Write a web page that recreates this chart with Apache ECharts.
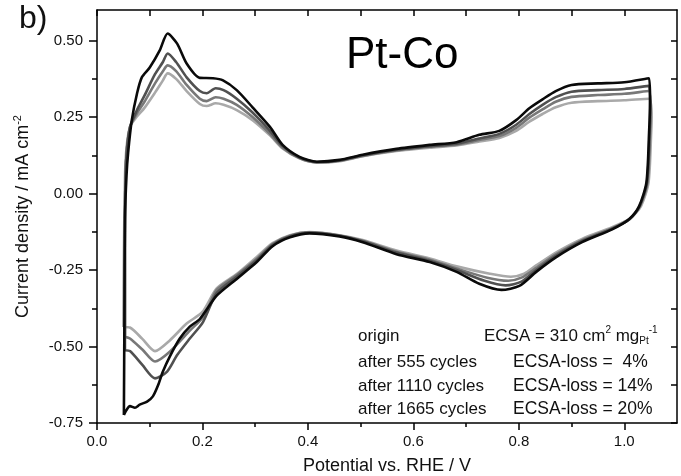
<!DOCTYPE html>
<html>
<head>
<meta charset="utf-8">
<script src="https://cdn.jsdelivr.net/npm/echarts@6/dist/echarts.min.js"></script>
<style>
  html, body { margin: 0; padding: 0; background: #fff; }
  #cv { width: 681px; height: 476px; }
</style>
</head>
<body>
<div id="cv"></div>
<script>
// tick positions
const xMajorTicks = [0, 0.2, 0.4, 0.6, 0.8, 1.0];
const xMinorTicks = [0.1, 0.3, 0.5, 0.7, 0.9];
const yMajorTicks = [-0.75, -0.5, -0.25, 0, 0.25, 0.5];
const yMinorTicks = [-0.625, -0.375, -0.125, 0.125, 0.375];

// CV loops: [potential V, current density mA cm-2], anodic then cathodic scan
const originLoop = [
  [0.051, -0.724], [0.052, -0.40], [0.053, -0.08], [0.056, 0.06], [0.059, 0.133],
  [0.066, 0.24], [0.076, 0.328], [0.085, 0.38], [0.100, 0.412], [0.119, 0.468],
  [0.134, 0.523], [0.152, 0.490], [0.170, 0.425], [0.195, 0.378], [0.220, 0.377],
  [0.239, 0.370], [0.265, 0.338], [0.295, 0.282], [0.328, 0.218], [0.352, 0.159],
  [0.384, 0.120], [0.417, 0.104], [0.460, 0.110], [0.504, 0.127], [0.568, 0.146],
  [0.631, 0.159], [0.682, 0.168], [0.725, 0.192], [0.763, 0.205], [0.795, 0.240],
  [0.820, 0.279], [0.845, 0.308], [0.870, 0.335], [0.900, 0.355], [0.950, 0.360],
  [1.000, 0.364], [1.047, 0.377],
  [1.049, 0.30], [1.047, 0.198], [1.042, 0.036], [1.028, -0.042], [1.009, -0.084],
  [0.977, -0.117], [0.920, -0.159], [0.871, -0.208], [0.833, -0.256], [0.801, -0.302],
  [0.767, -0.315], [0.725, -0.295], [0.682, -0.256], [0.631, -0.224], [0.568, -0.198],
  [0.504, -0.159], [0.460, -0.140], [0.403, -0.130], [0.366, -0.143], [0.333, -0.172],
  [0.303, -0.224], [0.265, -0.279], [0.227, -0.334], [0.195, -0.41], [0.176, -0.435],
  [0.157, -0.474], [0.138, -0.533], [0.125, -0.582], [0.116, -0.626], [0.106, -0.663],
  [0.095, -0.680], [0.081, -0.690], [0.072, -0.700], [0.0625, -0.695], [0.055, -0.71],
  [0.051, -0.724]
];
const cyc555Loop = [
  [0.053, -0.512], [0.053, -0.2], [0.054, 0.05], [0.057, 0.15], [0.063, 0.22],
  [0.075, 0.27], [0.090, 0.32], [0.110, 0.39], [0.125, 0.43], [0.134, 0.458],
  [0.150, 0.43], [0.170, 0.38], [0.195, 0.335], [0.208, 0.328], [0.225, 0.344],
  [0.240, 0.338], [0.265, 0.31], [0.295, 0.265], [0.328, 0.205], [0.352, 0.155],
  [0.384, 0.118], [0.417, 0.103], [0.460, 0.108], [0.504, 0.125], [0.568, 0.143],
  [0.631, 0.155], [0.682, 0.163], [0.725, 0.180], [0.763, 0.195], [0.795, 0.225],
  [0.820, 0.26], [0.845, 0.29], [0.870, 0.315], [0.900, 0.333], [0.950, 0.338],
  [1.000, 0.342], [1.047, 0.352],
  [1.049, 0.28], [1.048, 0.198], [1.043, 0.036], [1.029, -0.042], [1.010, -0.084],
  [0.977, -0.115], [0.920, -0.155], [0.871, -0.203], [0.833, -0.25], [0.805, -0.288],
  [0.775, -0.300], [0.735, -0.285], [0.682, -0.25], [0.631, -0.22], [0.568, -0.193],
  [0.504, -0.156], [0.460, -0.138], [0.403, -0.128], [0.366, -0.140], [0.333, -0.168],
  [0.303, -0.218], [0.265, -0.272], [0.227, -0.325], [0.201, -0.42], [0.176, -0.474],
  [0.152, -0.528], [0.133, -0.582], [0.110, -0.604], [0.086, -0.56], [0.0625, -0.515],
  [0.053, -0.512]
];
const cyc1110Loop = [
  [0.053, -0.468], [0.053, -0.2], [0.054, 0.05], [0.057, 0.15], [0.063, 0.22],
  [0.075, 0.26], [0.090, 0.30], [0.110, 0.36], [0.125, 0.40], [0.134, 0.419],
  [0.150, 0.40], [0.170, 0.355], [0.195, 0.31], [0.208, 0.302], [0.225, 0.315],
  [0.240, 0.31], [0.265, 0.29], [0.295, 0.25], [0.328, 0.195], [0.352, 0.15],
  [0.384, 0.116], [0.417, 0.102], [0.460, 0.107], [0.504, 0.123], [0.568, 0.141],
  [0.631, 0.153], [0.682, 0.160], [0.725, 0.175], [0.763, 0.188], [0.795, 0.215],
  [0.820, 0.248], [0.845, 0.275], [0.870, 0.30], [0.900, 0.316], [0.950, 0.322],
  [1.000, 0.326], [1.047, 0.335],
  [1.050, 0.26], [1.049, 0.198], [1.044, 0.036], [1.030, -0.04], [1.011, -0.082],
  [0.977, -0.113], [0.920, -0.152], [0.871, -0.198], [0.833, -0.243], [0.805, -0.275],
  [0.780, -0.285], [0.740, -0.275], [0.682, -0.245], [0.631, -0.216], [0.568, -0.19],
  [0.504, -0.154], [0.460, -0.137], [0.403, -0.127], [0.366, -0.138], [0.333, -0.165],
  [0.303, -0.213], [0.265, -0.266], [0.227, -0.315], [0.203, -0.40], [0.176, -0.448],
  [0.138, -0.517], [0.110, -0.549], [0.086, -0.51], [0.0625, -0.474], [0.053, -0.468]
];
const cyc1665Loop = [
  [0.050, -0.436], [0.051, -0.2], [0.053, 0.05], [0.056, 0.15], [0.063, 0.22],
  [0.075, 0.25], [0.090, 0.28], [0.110, 0.33], [0.125, 0.37], [0.134, 0.393],
  [0.150, 0.375], [0.170, 0.335], [0.195, 0.293], [0.208, 0.286], [0.225, 0.295],
  [0.240, 0.29], [0.265, 0.273], [0.295, 0.24], [0.328, 0.19], [0.352, 0.147],
  [0.384, 0.115], [0.417, 0.101], [0.460, 0.106], [0.504, 0.122], [0.568, 0.139],
  [0.631, 0.15], [0.682, 0.157], [0.725, 0.17], [0.763, 0.182], [0.795, 0.205],
  [0.820, 0.235], [0.845, 0.26], [0.870, 0.282], [0.900, 0.297], [0.950, 0.302],
  [1.000, 0.305], [1.047, 0.31],
  [1.052, 0.25], [1.051, 0.198], [1.046, 0.036], [1.032, -0.04], [1.012, -0.08],
  [0.977, -0.11], [0.920, -0.148], [0.871, -0.192], [0.833, -0.235], [0.810, -0.262],
  [0.785, -0.272], [0.745, -0.262], [0.682, -0.238], [0.631, -0.212], [0.568, -0.186],
  [0.504, -0.152], [0.460, -0.136], [0.403, -0.126], [0.366, -0.136], [0.333, -0.162],
  [0.303, -0.207], [0.265, -0.263], [0.227, -0.31], [0.200, -0.387], [0.170, -0.425],
  [0.138, -0.48], [0.110, -0.515], [0.086, -0.475], [0.0625, -0.438], [0.050, -0.436]
];

const seriesNames = ['origin', 'after 555 cycles', 'after 1110 cycles', 'after 1665 cycles'];
const lossLabels = ['ECSA = 310', 'ECSA-loss =  4%', 'ECSA-loss = 14%', 'ECSA-loss = 20%'];
const colors = ['#0a0a0a', '#505050', '#787878', '#a9a9a9'];

const FONT = '"Liberation Sans", Arial, sans-serif';
const chart = echarts.init(document.getElementById('cv'), null, { renderer: 'canvas' });

const lineSeries = (name, data, color, z) => ({
  name: name,
  type: 'line',
  data: data,
  showSymbol: false,
  smooth: 0.25,
  z: z,
  lineStyle: { color: color, width: 2.6 },
  animation: false
});

const fmtX = v => v.toFixed(1);
const fmtY = v => v.toFixed(2);
const frame = { color: '#000', width: 1.5 };

const legendRows = [336, 362, 386, 409];

const option = {
  backgroundColor: '#fff',
  animation: false,
  grid: { left: 97, right: 4, top: 10, bottom: 53, outerBoundsMode: 'none' },
  xAxis: [
    {
      type: 'value', min: 0, max: 1.1, position: 'bottom',
      axisLine: { onZero: false, lineStyle: frame },
      axisTick: { customValues: xMajorTicks, length: 7, lineStyle: frame },
      axisLabel: { customValues: xMajorTicks, formatter: fmtX, color: '#111', fontSize: 15, fontFamily: FONT, margin: 11 },
      splitLine: { show: false },
      name: 'Potential vs. RHE / V', nameLocation: 'middle', nameGap: 34,
      nameTextStyle: { fontSize: 18, color: '#111', fontFamily: FONT }
    },
    {
      type: 'value', min: 0, max: 1.1, position: 'bottom',
      axisLine: { show: false, onZero: false },
      axisTick: { customValues: xMinorTicks, length: 4, lineStyle: frame },
      axisLabel: { show: false }, splitLine: { show: false }
    },
    {
      type: 'value', min: 0, max: 1.1, position: 'top',
      axisLine: { onZero: false, lineStyle: frame },
      axisTick: { customValues: xMajorTicks.concat(xMinorTicks), inside: true, length: 6, lineStyle: frame },
      axisLabel: { show: false }, splitLine: { show: false }
    }
  ],
  yAxis: [
    {
      type: 'value', min: -0.75, max: 0.6, position: 'left',
      axisLine: { show: true, onZero: false, lineStyle: frame },
      axisTick: { show: true, customValues: yMajorTicks, length: 8, lineStyle: frame },
      axisLabel: { customValues: yMajorTicks, formatter: fmtY, color: '#111', fontSize: 15, fontFamily: FONT, margin: 14 },
      splitLine: { show: false },
      name: '{t|Current density / mA cm}{s|-2}', nameLocation: 'middle', nameGap: 62,
      nameTextStyle: {
        color: '#111', fontFamily: FONT,
        rich: {
          t: { fontSize: 18, fontFamily: FONT, color: '#111' },
          s: { fontSize: 11, fontFamily: FONT, color: '#111', padding: [0, 0, 12, 0] }
        }
      }
    },
    {
      type: 'value', min: -0.75, max: 0.6, position: 'left',
      axisLine: { show: false, onZero: false },
      axisTick: { show: true, customValues: yMinorTicks, length: 5, lineStyle: frame },
      axisLabel: { show: false }, splitLine: { show: false }
    },
    {
      type: 'value', min: -0.75, max: 0.6, position: 'right',
      axisLine: { show: true, onZero: false, lineStyle: frame },
      axisTick: { show: true, customValues: yMajorTicks.concat(yMinorTicks), inside: true, length: 6, lineStyle: frame },
      axisLabel: { show: false }, splitLine: { show: false }
    }
  ],
  series: [
    lineSeries(seriesNames[3], cyc1665Loop, colors[3], 2),
    lineSeries(seriesNames[2], cyc1110Loop, colors[2], 3),
    lineSeries(seriesNames[1], cyc555Loop, colors[1], 4),
    lineSeries(seriesNames[0], originLoop, colors[0], 5)
  ],
  graphic: [
    { type: 'text', left: 19, top: 3, style: { text: 'b)', font: '32px ' + FONT, fill: '#111' } },
    { type: 'text', x: 346, y: 56, style: { text: 'Pt-Co', font: '44px ' + FONT, fill: '#000', verticalAlign: 'middle' } },
    {
      type: 'text', x: 484, y: legendRows[0], z: 10,
      style: {
        text: '{n|' + lossLabels[0] + ' cm}{p|2}{n| mg}{b|Pt}{p|-1}',
        verticalAlign: 'middle', fill: '#111',
        rich: {
          n: { font: '17px ' + FONT, fill: '#111' },
          p: { font: '10px ' + FONT, fill: '#111', padding: [0, 0, 12, 0] },
          b: { font: '10px ' + FONT, fill: '#111', padding: [10, 0, 0, 0] }
        }
      }
    }
  ]
};

seriesNames.forEach((nm, i) => {
  option.graphic.push({
    type: 'text', x: 358, y: legendRows[i], z: 10,
    style: { text: nm, font: '17px ' + FONT, fill: '#111', verticalAlign: 'middle' }
  });
  if (i > 0) {
    option.graphic.push({
      type: 'text', x: 513, y: legendRows[i], z: 10,
      style: { text: lossLabels[i], font: '17.5px ' + FONT, fill: '#111', verticalAlign: 'middle' }
    });
  }
});

chart.setOption(option);
</script>
</body>
</html>
